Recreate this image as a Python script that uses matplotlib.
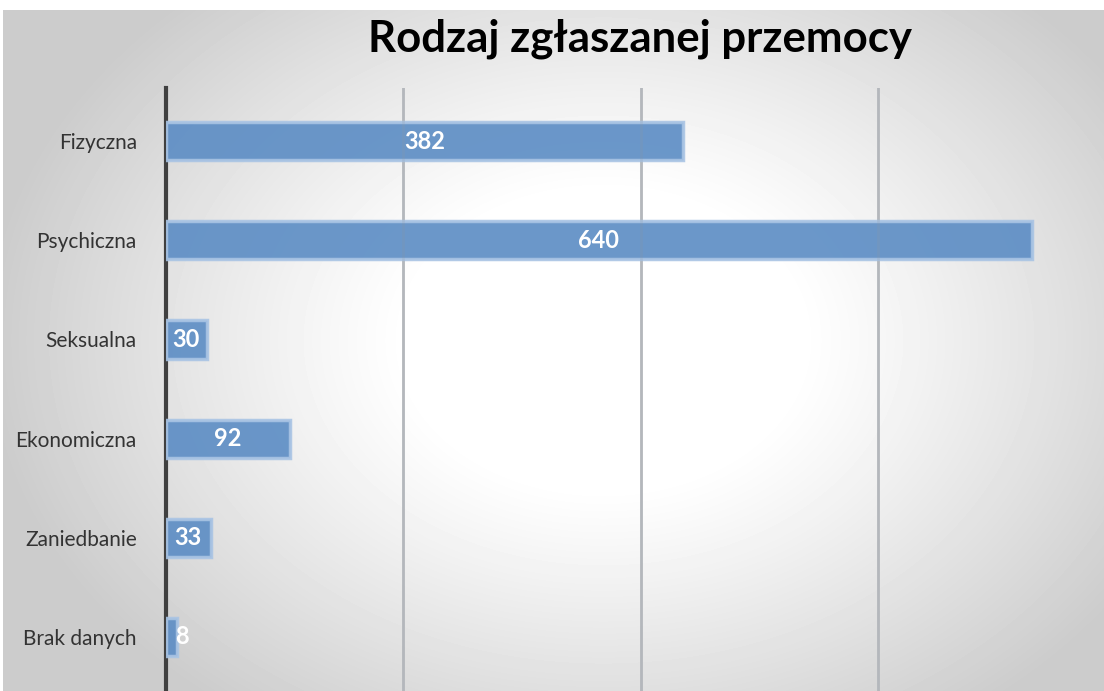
import numpy as np
import matplotlib
matplotlib.use("Agg")
import matplotlib.pyplot as plt

categories = ["Fizyczna", "Psychiczna", "Seksualna", "Ekonomiczna", "Zaniedbanie", "Brak danych"]
values = [382, 640, 30, 92, 33, 8]
title = "Rodzaj zgłaszanej przemocy"
grid_values = [175.5, 351, 526.5]

plt.rcParams['font.family'] = ['Lato', 'DejaVu Sans']

fig = plt.figure(figsize=(11.04, 6.91), dpi=100)
fig.patch.set_facecolor("white")

# radial gradient background
bg = fig.add_axes([3 / 1104, 0, 1 - 3 / 1104, 1 - 10 / 691])
bg.set_axis_off()
yy, xx = np.mgrid[0:681, 0:1101]
cx, cy = 600, 330
r = np.sqrt(((xx - cx) / 560.0) ** 2 + ((yy - cy) / 420.0) ** 2)
shade = 1.0 - 0.2 * np.clip((r - 0.35) / 0.75, 0, 1) ** 1.1
bg.imshow(shade, cmap="gray", vmin=0, vmax=1, aspect="auto", interpolation="bilinear")

ax = fig.add_axes([166 / 1104, 0, 1 - 166 / 1104, (691 - 88) / 691])
ax.patch.set_alpha(0)
ypos = np.arange(len(categories))
ax.barh(ypos, values, height=0.385, color="#5b8cc4", alpha=0.9,
        edgecolor="#a9c4e4", linewidth=2.5, zorder=3)
for x in grid_values:
    ax.axvline(x, color="#bdbdbd", linewidth=2, zorder=2)
    ax.axvline(x, color="#9aa9bb", linewidth=2, alpha=0.25, zorder=4)

for y, v in zip(ypos, values):
    ax.text(max(v / 2, 12), y, str(v), ha="center", va="center", color="white",
            fontsize=17, fontweight="bold", zorder=5)

ax.set_xlim(0, 693.5)
ax.set_ylim(5.545, -0.535)
ax.set_yticks(ypos)
ax.set_yticklabels(categories, fontsize=15, color="#333333")
ax.set_xticks([])
ax.tick_params(axis="y", length=0, pad=21)
for s in ["top", "right", "bottom"]:
    ax.spines[s].set_visible(False)
ax.spines["left"].set_color("#404040")
ax.spines["left"].set_linewidth(3)

fig.text(640 / 1104, 1 - 39 / 691, title, ha="center", va="center",
         fontsize=31.5, fontweight="bold", color="black")

fig.savefig("out.png", dpi=100)
